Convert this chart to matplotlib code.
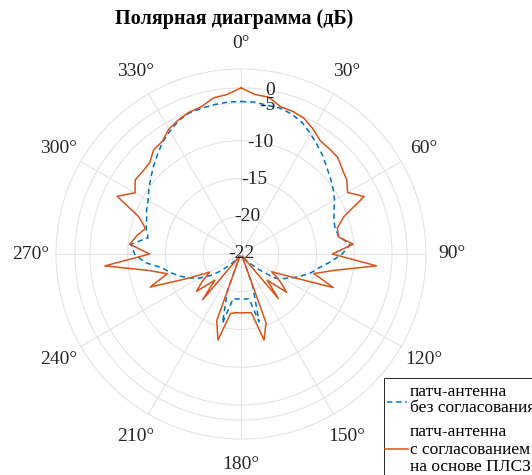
import numpy as np
import matplotlib.pyplot as plt
from matplotlib.lines import Line2D
from matplotlib.patches import Rectangle

plt.rcParams['font.family'] = ['Liberation Serif', 'DejaVu Serif']

# angles, degrees clockwise from boresight
angles_deg = np.arange(0, 360, 5)

# normalised gain, dB
gain_plain = [
    -1.8, -1.8, -2.0, -2.0, -2.3, -2.8, -3.6, -4.4, -5.1, -5.9, -6.5, -7.1,
    -7.7, -8.4, -8.9, -9.1, -8.8, -7.5, -8.6, -10.1, -11.5, -12.4, -13.5, -14.5,
    -15.5, -16.4, -18.5, -20.0, -21.0, -21.5, -21.7, -21.5, -17.5, -12.7, -16.0, -16.0,
    -16.1, -16.0, -16.0, -12.5, -16.7, -21.5, -21.7, -21.5, -21.0, -20.0, -18.5, -17.0,
    -15.6, -14.5, -13.4, -12.4, -11.4, -9.2, -7.9, -7.4, -9.5, -9.0, -8.7, -8.2,
    -7.8, -7.1, -6.4, -5.6, -4.8, -3.9, -3.2, -2.5, -2.1, -2.0, -1.9, -1.8,
]
gain_matched = [
    0.0, -0.8, -0.9, -1.8, -1.9, -2.2, -2.9, -3.7, -3.8, -3.9, -4.5, -4.9,
    -5.7, -4.0, -7.5, -8.8, -8.9, -7.1, -9.9, -4.0, -9.5, -12.0, -9.0, -15.0,
    -17.3, -15.7, -14.1, -17.1, -14.3, -21.5, -21.7, -21.5, -12.3, -10.2, -14.1, -14.2,
    -14.2, -14.2, -14.0, -10.2, -12.6, -21.5, -21.7, -21.5, -14.1, -17.1, -14.3, -15.8,
    -17.2, -14.5, -9.2, -11.9, -9.5, -3.9, -9.9, -7.2, -8.0, -8.9, -7.6, -3.9,
    -5.8, -4.9, -5.0, -4.9, -4.0, -3.8, -2.9, -2.4, -2.0, -1.8, -1.0, -0.8,
]

r_offset = 22
r_ticks = [0, 5, 10, 15, 20, 22]
r_tick_labels = ['-22', '-20', '-15', '-10', '-5', '0']
theta_ticks = np.arange(0, 360, 30)
theta_tick_labels = [f'{t}°' for t in theta_ticks]

legend_plain = ['патч-антенна', 'без согласования']
legend_matched = ['патч-антенна', 'с согласованием', 'на основе ПЛСЗ']

blue = '#0072BD'
orange = '#D95319'
grid_col = '#e3e3e3'
text_col = '#262626'

W, H = 532, 475
fig = plt.figure(figsize=(W / 100, H / 100), dpi=100)
ax = fig.add_axes([56 / W, 36 / H, 370 / W, 370 / H], projection='polar')
ax.set_theta_zero_location('N')
ax.set_theta_direction(-1)
ax.set_ylim(0, 24.5)
ax.set_yticks(r_ticks)
ax.set_yticklabels([])
ax.set_xticks(np.deg2rad(theta_ticks))
ax.set_xticklabels([])
ax.tick_params(length=0)
ax.grid(True, color=grid_col, linewidth=0.8)
ax.spines['polar'].set_color(grid_col)
ax.spines['polar'].set_linewidth(0.8)


def closed(vals):
    th = np.deg2rad(np.append(angles_deg, 360))
    r = np.array(list(vals) + [vals[0]]) + r_offset
    return th, r


th, r = closed(gain_plain)
ax.plot(th, r, color=blue, lw=1.1, ls=(0, (3.5, 2.5)))
th, r = closed(gain_matched)
ax.plot(th, r, color=orange, lw=1.1)

# radial labels along a ray just right of 0°
for rv, lab in zip(r_ticks, r_tick_labels):
    ax.text(np.deg2rad(10), rv, lab, ha='center', va='center',
            fontsize=14, color=text_col, clip_on=False)

# angle labels outside the outer ring
for t, lab in zip(theta_ticks, theta_tick_labels):
    ax.text(np.deg2rad(t), 27.9, lab, ha='center', va='center',
            fontsize=14, color=text_col, clip_on=False)

fig.text(234 / W, 1 - 19 / H, 'Полярная диаграмма (дБ)', ha='center', va='center',
         fontsize=14.5, fontweight='bold', color='black')

# legend box, running off the bottom-right corner
fig.add_artist(Rectangle((384 / W, -0.1), 0.5, (H - 378) / H + 0.1,
                         transform=fig.transFigure, facecolor='white',
                         edgecolor=text_col, lw=0.7))
fig.add_artist(Line2D([387 / W, 407 / W], [1 - 402 / H] * 2, transform=fig.transFigure,
                      color=blue, lw=1.1, ls=(0, (3.5, 2.5))))
fig.add_artist(Line2D([385 / W, 408 / W], [1 - 449 / H] * 2, transform=fig.transFigure,
                      color=orange, lw=1.1))
for y, s in zip([392, 408], legend_plain):
    fig.text(410 / W, 1 - y / H, s, ha='left', va='center', fontsize=12.5, color='black')
for y, s in zip([432, 450, 467], legend_matched):
    fig.text(410 / W, 1 - y / H, s, ha='left', va='center', fontsize=12.5, color='black')

fig.savefig('out.png', dpi=100)
